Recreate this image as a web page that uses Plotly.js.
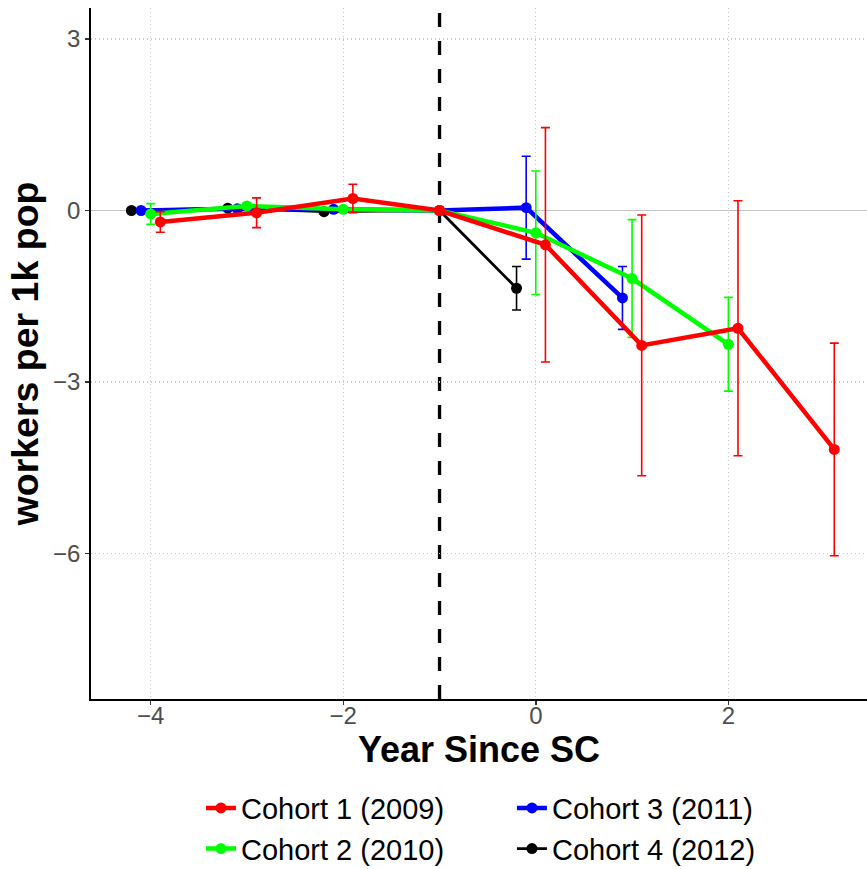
<!DOCTYPE html>
<html>
<head>
<meta charset="utf-8">
<script src="https://cdn.plot.ly/plotly-3.0.1.min.js"></script>
<style>
  html, body { margin: 0; padding: 0; background: #ffffff; }
  #chart { width: 867px; height: 869px; }
</style>
</head>
<body>
<div id="chart"></div>
<script>
// Event-study estimates by cohort: workers per 1k population, relative to year -1
const cohortNames = ['Cohort 1 (2009)', 'Cohort 2 (2010)', 'Cohort 3 (2011)', 'Cohort 4 (2012)'];

const years1 = [-4, -3, -2, -1, 0, 1, 2, 3];
const est1   = [-0.20, -0.04, 0.21, 0, -0.60, -2.36, -2.06, -4.18];
const ci1    = [0.18, 0.26, 0.25, 0, 2.05, 2.28, 2.23, 1.86];

const years2 = [-4, -3, -2, -1, 0, 1, 2];
const est2   = [-0.06, 0.08, 0.02, 0, -0.39, -1.19, -2.34];
const ci2    = [0.18, 0.05, 0.04, 0, 1.08, 1.03, 0.82];

const years3 = [-4, -3, -2, -1, 0, 1];
const est3   = [0, 0.03, 0.02, 0, 0.05, -1.53];
const ci3    = [0, 0.03, 0.03, 0, 0.90, 0.55];

const years4 = [-4, -3, -2, -1, 0];
const est4   = [0, 0.04, -0.02, 0, -1.36];
const ci4    = [0, 0.03, 0.03, 0, 0.38];

const xTicks = [-4, -2, 0, 2];
const yTicks = [-6, -3, 0, 3];
const treatYear = -1;

// styling per cohort
const colors = ['#FF0000', '#00FF00', '#0000FF', '#000000'];
const dodge  = [0.1, 0, -0.1, -0.2];
const lineW  = [4.5, 4.5, 4.5, 2.8];
const ranks  = [1, 3, 2, 4];

const series = [
  [years1, est1, ci1],
  [years2, est2, ci2],
  [years3, est3, ci3],
  [years4, est4, ci4]
];

function makeTrace(i) {
  const [yrs, est, ci] = series[i];
  // points are shifted sideways per cohort, except at the reference year
  const xs = yrs.map(function (y) { return y === treatYear ? y : y + dodge[i]; });
  return {
    type: 'scatter',
    mode: 'lines+markers',
    name: cohortNames[i],
    x: xs,
    y: est,
    legendrank: ranks[i],
    line: { color: colors[i], width: lineW[i] },
    marker: { color: colors[i], size: 11 },
    error_y: {
      type: 'data', array: ci, visible: true,
      color: colors[i], thickness: 1.6, width: 4.5
    },
    hoverinfo: 'x+y+name'
  };
}

// draw order: cohort 4 at the bottom, cohort 1 on top
const traces = [3, 2, 1, 0].map(makeTrace);

const fam = 'Liberation Sans, Arial, sans-serif';
const tickFont = { family: fam, size: 24, color: '#4d4d4d' };
const minusLabel = function (v) { return v < 0 ? '\u2212' + Math.abs(v) : String(v); };

const layout = {
  width: 867,
  height: 869,
  margin: { l: 91, r: 0, t: 8, b: 170 },
  paper_bgcolor: '#ffffff',
  plot_bgcolor: '#ffffff',
  showlegend: true,
  xaxis: {
    range: [-4.62, 3.44],
    tickmode: 'array',
    tickvals: xTicks,
    ticktext: xTicks.map(minusLabel),
    tickfont: tickFont,
    ticklabelstandoff: -10,
    ticks: 'outside', ticklen: 4, tickwidth: 1.5, tickcolor: '#333333',
    showline: true, linecolor: '#000000', linewidth: 1.8, mirror: false,
    showgrid: true, gridcolor: '#c8c8c8', gridwidth: 1.1, griddash: '1px,3px',
    zeroline: false,
    automargin: false,
    title: { text: 'Year Since SC', font: { family: fam, size: 36, color: '#000000', weight: 'bold' }, standoff: 9 }
  },
  yaxis: {
    range: [-8.545, 3.542],
    tickmode: 'array',
    tickvals: yTicks,
    ticktext: yTicks.map(minusLabel),
    tickfont: tickFont,
    ticks: 'outside', ticklen: 4, tickwidth: 1.5, tickcolor: '#333333',
    showline: true, linecolor: '#000000', linewidth: 1.8, mirror: false,
    showgrid: true, gridcolor: '#c8c8c8', gridwidth: 1.1, griddash: '1px,3px',
    zeroline: true, zerolinecolor: '#c4c4c4', zerolinewidth: 1.6,
    automargin: false,
    title: { text: 'workers per 1k pop', font: { family: fam, size: 37.5, color: '#000000', weight: 'bold' }, standoff: 3 }
  },
  shapes: [
    {
      type: 'line', layer: 'below',
      xref: 'x', yref: 'paper',
      x0: treatYear, x1: treatYear, y0: 0, y1: 1,
      line: { color: '#000000', width: 3.3, dash: '14px,14px' }
    }
  ],
  legend: {
    orientation: 'h',
    xref: 'container', yref: 'container',
    x: 0.2318, xanchor: 'left',
    y: 0.0995, yanchor: 'top',
    font: { family: fam, size: 29, color: '#000000' },
    entrywidth: 266, entrywidthmode: 'pixels',
    bgcolor: 'rgba(0,0,0,0)',
    traceorder: 'normal'
  }
};

Plotly.newPlot('chart', traces, layout, { displayModeBar: false, staticPlot: true });
</script>
</body>
</html>
